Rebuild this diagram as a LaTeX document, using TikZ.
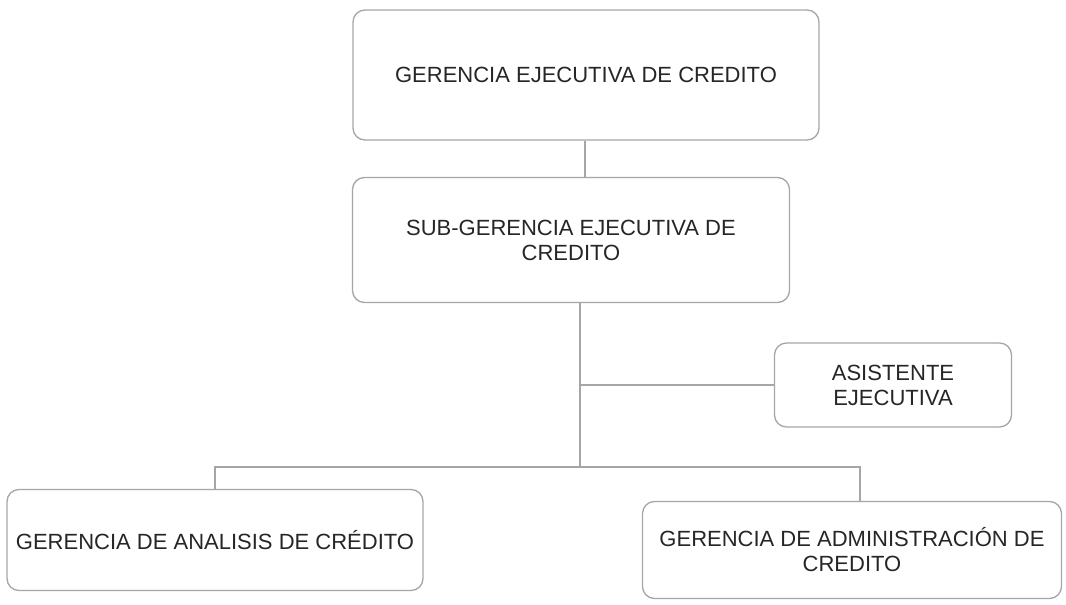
\documentclass[tikz,border=0pt]{standalone}
\usepackage{fontspec}
\setmainfont{Liberation Sans}
\begin{document}
\begin{tikzpicture}[x=1pt,y=-1pt,
  orgbox/.style={draw=black!35, line width=1.3pt, rounded corners=12pt, align=center,
    text=black!85, font=\fontsize{22}{25}\selectfont, inner sep=0pt},
  link/.style={draw=black!35, line width=1.3pt}]
\useasboundingbox[fill=white] (0,0) rectangle (1066,605);
\node[orgbox, minimum width=466pt, minimum height=130pt] (b1) at (586,75) {GERENCIA EJECUTIVA DE CREDITO};
\node[orgbox, minimum width=437pt, minimum height=125pt] (b2) at (571,240) {SUB-GERENCIA EJECUTIVA DE\\CREDITO};
\node[orgbox, minimum width=237pt, minimum height=84pt] (as) at (893,385) {ASISTENTE\\EJECUTIVA};
\node[orgbox, minimum width=416pt, minimum height=101pt] (gl) at (215,540) {GERENCIA DE ANALISIS DE CRÉDITO};
\node[orgbox, minimum width=419pt, minimum height=97pt] (gr) at (852,550) {GERENCIA DE ADMINISTRACIÓN DE\\CREDITO};
\coordinate (j) at (580,467);
\coordinate (rj) at (860,467);
\draw[link] ([xshift=-1pt]b1.south) -- ([xshift=-1pt]b1.south |- b2.north);
\draw[link] (b2.south -| j) -- (j);
\draw[link] (as.west) -- (as.west -| j);
\draw[link] (gl.north) |- (rj) -- (rj |- gr.north);
\end{tikzpicture}
\end{document}
